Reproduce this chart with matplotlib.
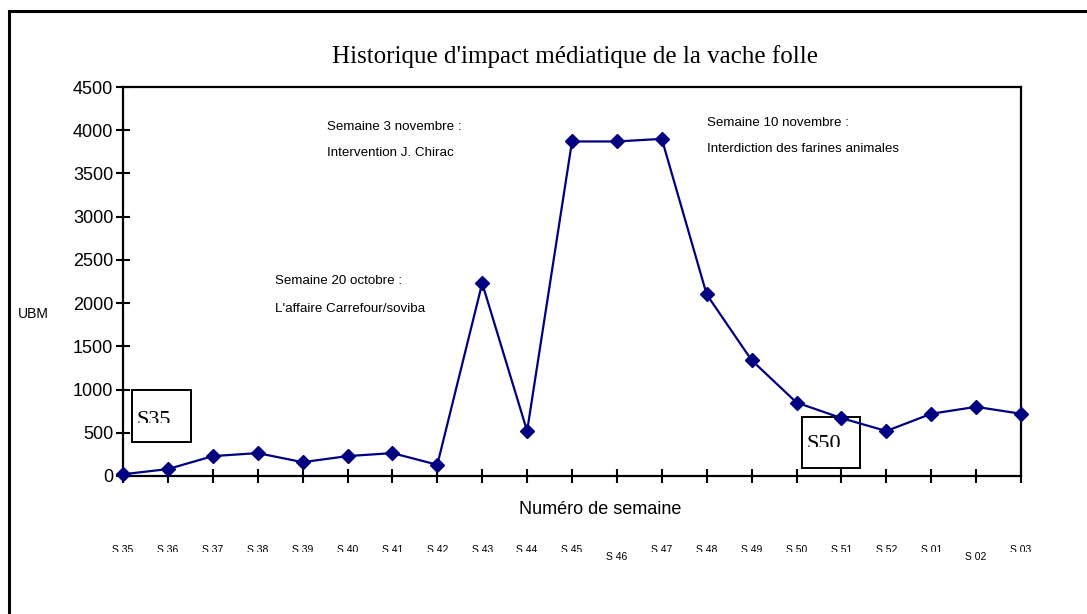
import matplotlib
matplotlib.use("Agg")
import matplotlib.pyplot as plt
from matplotlib.patches import Rectangle
from matplotlib.transforms import Bbox, ScaledTranslation

weeks = ["S 35", "S 36", "S 37", "S 38", "S 39", "S 40", "S 41", "S 42", "S 43", "S 44",
         "S 45", "S 46", "S 47", "S 48", "S 49", "S 50", "S 51", "S 52", "S 01", "S 02", "S 03"]
ubm = [20, 80, 230, 265, 160, 230, 265, 130, 2230, 520,
       3870, 3870, 3900, 2100, 1340, 850, 670, 520, 720, 800, 720]
lowered = ["S 46", "S 02"]
yticks = [0, 500, 1000, 1500, 2000, 2500, 3000, 3500, 4000, 4500]

W, H = 1087, 614
fig = plt.figure(figsize=(W / 100, H / 100), dpi=100)
fig.patch.set_facecolor("white")

# outer border
fig.patches.append(Rectangle((9 / W, -0.1), 1.2, 1 - 11 / H + 0.1, transform=fig.transFigure,
                             fill=False, edgecolor="black", linewidth=2.2, zorder=-2))

ax = fig.add_axes([123 / W, 1 - 476 / H, (1021 - 123) / W, (476 - 87) / H])
ax.set_facecolor("none")
x = list(range(len(weeks)))
ax.plot(x, ubm, color="#000080", linewidth=1.6, marker="D", markersize=7.5,
        markerfacecolor="#000080", markeredgecolor="#000080", clip_on=False, zorder=3)
ax.set_xlim(0, len(weeks) - 1)
ax.set_ylim(0, 4500)
ax.set_yticks(yticks)
ax.set_yticklabels([str(v) for v in yticks], fontsize=13, family="Liberation Sans")
ax.set_xticks(x)
ax.set_xticklabels([])
ax.tick_params(axis="both", direction="inout", length=10, width=1.5, color="black")
ax.tick_params(axis="y", pad=2)
for s in ax.spines.values():
    s.set_linewidth(1.6)
    s.set_color("black")

# x tick labels (clipped like the original)
clip_top = Bbox.from_extents(0, H - 552, W, H)
for i, lab in enumerate(weeks):
    if lab in lowered:
        ax.text(i, 0, lab, ha="center", va="center", fontsize=7.5, family="Liberation Sans",
                transform=ax.get_xaxis_transform() + ScaledTranslation(0, -(557 - 476) / 100, fig.dpi_scale_trans))
    else:
        t = ax.text(i, 0, lab, ha="center", va="center", fontsize=7.5, family="Liberation Sans",
                    transform=ax.get_xaxis_transform() + ScaledTranslation(0, -(550 - 476) / 100, fig.dpi_scale_trans))
        t.set_clip_box(clip_top)
        t.set_clip_on(True)

fig.text(600 / W, 1 - 510 / H, "Numéro de semaine", ha="center", va="center",
         fontsize=13, family="Liberation Sans")
fig.text(18 / W, 1 - 314 / H, "UBM", ha="left", va="center", fontsize=10, family="Liberation Sans")
fig.text(575 / W, 1 - 57 / H, "Historique d'impact médiatique de la vache folle", ha="center",
         va="center", fontsize=18, family="Liberation Serif")

ann_font = dict(fontsize=9.6, family="Liberation Sans", ha="left", va="center")
fig.text(327 / W, 1 - 127 / H, "Semaine 3 novembre :", **ann_font)
fig.text(327 / W, 1 - 153 / H, "Intervention J. Chirac", **ann_font)
fig.text(707 / W, 1 - 123 / H, "Semaine 10 novembre :", **ann_font)
fig.text(707 / W, 1 - 149 / H, "Interdiction des farines animales", **ann_font)
fig.text(275 / W, 1 - 281 / H, "Semaine 20 octobre :", **ann_font)
fig.text(275 / W, 1 - 309 / H, "L'affaire Carrefour/soviba", **ann_font)

# boxed labels (drawn below the data line)
for (x0, y0, x1, y1, lab, base, clipy) in [(132, 390, 191, 442, "S35", 425, 423),
                                           (802, 417, 860, 468, "S50", 449, 447)]:
    fig.patches.append(Rectangle((x0 / W, 1 - y1 / H), (x1 - x0) / W, (y1 - y0) / H,
                                 transform=fig.transFigure, fill=False,
                                 edgecolor="black", linewidth=1.4, zorder=-1))
    t = fig.text((x0 + 5) / W, 1 - base / H, lab, ha="left", va="baseline", fontsize=16,
                 family="Liberation Serif", zorder=-1)
    t.set_clip_box(Bbox.from_extents(0, H - clipy, W, H))
    t.set_clip_on(True)

fig.savefig("out.png", dpi=100)
